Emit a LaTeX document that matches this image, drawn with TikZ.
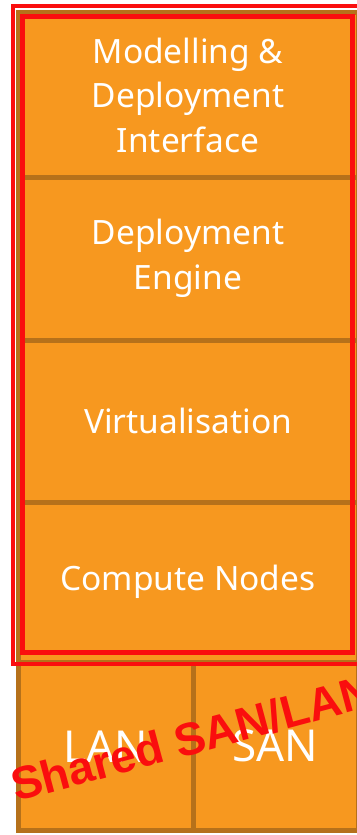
\documentclass[tikz,border=0pt]{standalone}
\usepackage{fontspec}
\setmainfont{Noto Sans}
\newfontfamily\stampfont{Liberation Sans}
\usepackage{tikz}
\usetikzlibrary{positioning}
\definecolor{layerfill}{RGB}{247,152,31}
\definecolor{layerline}{RGB}{182,113,26}
\definecolor{alertred}{RGB}{250,14,14}
\tikzset{
	layer/.style={rectangle,draw=layerline,fill=layerfill,line width=5pt,text=white,
		minimum width=340pt,align=center,inner sep=0pt,
		font=\fontsize{33.5}{44.5}\selectfont},
	netbox/.style={layer,minimum height=168.5pt,font=\fontsize{44}{50}\selectfont},
	redframe/.style={draw=alertred}
}
\begin{document}
\begin{tikzpicture}[x=1pt,y=-1pt]
		\useasboundingbox (0,0) rectangle (356,835);
		% the stack of layers
		\node[layer,minimum height=165.5pt] (modelling) at (188,95) {Modelling \&\\Deployment\\Interface};
		\node[layer,minimum height=163pt] (engine) at (188,258.5) {Deployment\\Engine};
		\node[layer,minimum height=162pt] (virt) at (188,421) {Virtualisation};
		\node[layer,minimum height=160pt] (compute) at (188,582) {Compute Nodes};
		\node[netbox,minimum width=175pt] (lan) at (105.5,746.25) {LAN};
		\node[netbox,minimum width=165pt] (san) at (275.5,746.25) {SAN};
		% red frames round the shared part
		\draw[redframe,line width=5pt] (22.5,16) rectangle (352,652);
		\draw[redframe,line width=4pt] (13,5.5) rectangle (370,664);
		\node[text=alertred,font=\stampfont\bfseries\fontsize{46}{52}\selectfont,anchor=base west,rotate=15,inner sep=0pt] (shared) at (16,802) {Shared SAN/LAN};
	\end{tikzpicture}
\end{document}
